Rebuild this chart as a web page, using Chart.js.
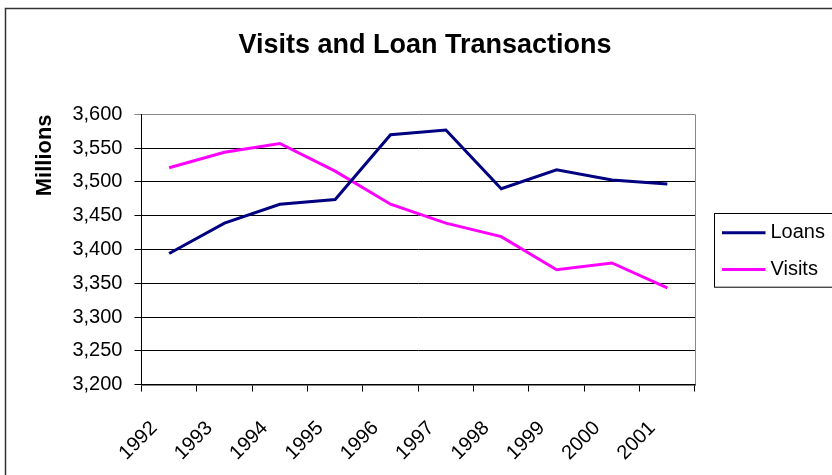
<!DOCTYPE html>
<html>
<head>
<meta charset="utf-8">
<script src="https://cdn.jsdelivr.net/npm/chart.js@4/dist/chart.umd.min.js"></script>
<style>
  html, body { margin: 0; padding: 0; background: #fff; }
  #wrap { position: relative; width: 832px; height: 475px; }
</style>
</head>
<body>
<div id="wrap"><canvas id="chart" width="832" height="475"></canvas></div>
<script>
// Data (millions)
const years = ["1992", "1993", "1994", "1995", "1996", "1997", "1998", "1999", "2000", "2001"];
const loans = [3394, 3439, 3467, 3474, 3570, 3577, 3490, 3518, 3503, 3497];
const visits = [3521, 3544, 3557, 3516, 3467, 3439, 3419, 3370, 3380, 3343];

const yMin = 3200;
const yMax = 3600;
const yStep = 50;

const FONT = "'Liberation Sans', Arial, sans-serif";

// outer frame + grey right edge of the plot area
const framePlugin = {
  id: "frame",
  afterDraw(chart) {
    const { ctx, chartArea } = chart;
    ctx.save();
    ctx.strokeStyle = "#333";
    ctx.lineWidth = 1.5;
    ctx.strokeRect(5.5, 8.5, 900, 500);
    ctx.strokeStyle = "#888";
    ctx.lineWidth = 1;
    ctx.beginPath();
    ctx.moveTo(chartArea.right + 0.5, chartArea.top);
    ctx.lineTo(chartArea.right + 0.5, chartArea.bottom);
    ctx.stroke();
    ctx.restore();
  },
};

// Excel style legend box to the right of the plot
const boxLegendPlugin = {
  id: "boxLegend",
  afterDraw(chart) {
    const { ctx, chartArea } = chart;
    const sets = chart.data.datasets;
    const rowH = 36.6;
    const boxLeft = chartArea.right + 19.5;
    const boxH = rowH * sets.length + 0.5;
    const midY = (chartArea.top + chartArea.bottom) / 2;
    const boxTop = Math.round(midY - boxH / 2) + 0.5;

    ctx.save();
    ctx.strokeStyle = "#000";
    ctx.lineWidth = 1;
    ctx.strokeRect(boxLeft, boxTop, 200, boxH);

    ctx.font = "20px " + FONT;
    ctx.textBaseline = "middle";
    ctx.textAlign = "left";
    sets.forEach((ds, i) => {
      const y = boxTop + rowH / 2 + i * rowH + 1;
      ctx.strokeStyle = ds.borderColor;
      ctx.lineWidth = ds.borderWidth;
      ctx.beginPath();
      ctx.moveTo(boxLeft + 7.5, y);
      ctx.lineTo(boxLeft + 51, y);
      ctx.stroke();
      ctx.fillStyle = "#000";
      ctx.fillText(ds.label, boxLeft + 56, y);
    });
    ctx.restore();
  },
};

function initChart() {
  const ctx = document.getElementById("chart");

  new Chart(ctx, {
    type: "line",
    data: {
      labels: years,
      datasets: [
        {
          label: "Loans",
          data: loans,
          borderColor: "#000080",
          backgroundColor: "#000080",
          borderWidth: 3,
          pointRadius: 0,
          tension: 0,
          fill: false,
        },
        {
          label: "Visits",
          data: visits,
          borderColor: "#FF00FF",
          backgroundColor: "#FF00FF",
          borderWidth: 3,
          pointRadius: 0,
          tension: 0,
          fill: false,
        },
      ],
    },
    options: {
      responsive: false,
      animation: false,
      locale: "en-US",
      layout: {
        padding: { left: 18, right: 0, top: 0, bottom: -15 },
      },
      plugins: {
        legend: { display: false },
        tooltip: { enabled: false },
        title: {
          display: true,
          text: "Visits and Loan Transactions",
          color: "#000",
          font: { family: FONT, size: 27, weight: "bold" },
          padding: { top: 29, bottom: 53 },
        },
      },
      scales: {
        x: {
          offset: true,
          grid: {
            offset: true,
            drawOnChartArea: false,
            drawTicks: true,
            tickLength: 7,
            color: "#000",
          },
          border: { color: "#000", width: 1.5 },
          ticks: {
            color: "#000",
            font: { family: FONT, size: 20 },
            maxRotation: 45,
            minRotation: 45,
            padding: 25,
            labelOffset: -15,
            autoSkip: false,
          },
        },
        y: {
          min: yMin,
          max: yMax,
          grid: {
            color: (c) => (c.tick && c.tick.value === yMax ? "#888" : "#000"),
            tickLength: 7,
            lineWidth: 1,
          },
          border: { color: "#000", width: 1 },
          ticks: {
            stepSize: yStep,
            color: "#000",
            padding: 12,
            font: { family: FONT, size: 20 },
          },
          title: {
            display: true,
            align: "end",
            text: "Millions",
            color: "#000",
            font: { family: FONT, size: 22, weight: "bold" },
            padding: { top: 14, bottom: 2 },
          },
        },
        // empty right-hand strip that holds the legend box
        legendSpace: {
          type: "linear",
          position: "right",
          display: true,
          grid: { display: false },
          border: { display: false },
          ticks: { display: false },
          afterFit(scale) {
            scale.width = 137;
          },
        },
      },
    },
    plugins: [framePlugin, boxLegendPlugin],
  });
}

document.addEventListener("DOMContentLoaded", initChart);
</script>
</body>
</html>
